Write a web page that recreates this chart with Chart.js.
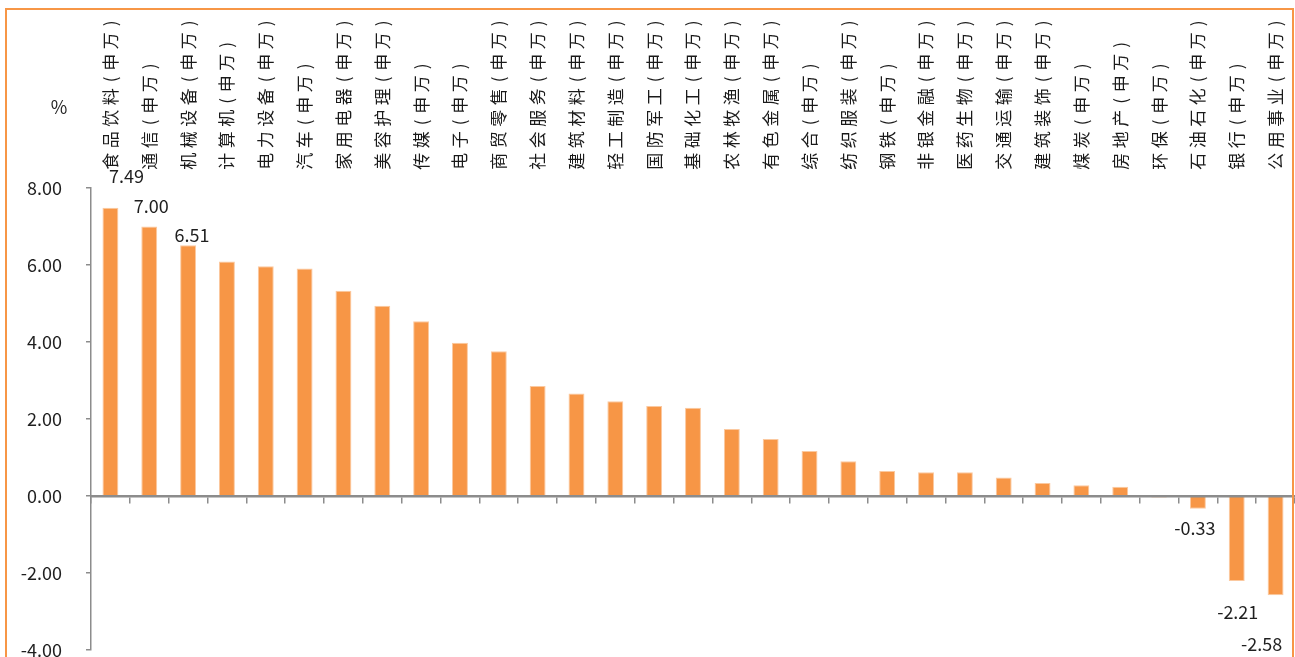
<!DOCTYPE html>
<html>
<head>
<meta charset="utf-8">
<script src="https://cdn.jsdelivr.net/npm/chart.js@4/dist/chart.umd.min.js"></script>
<style>
  html, body { margin: 0; padding: 0; background: #fff; }
  #wrap { position: relative; width: 1295px; height: 657px; overflow: hidden; }
  #frame { position: absolute; left: 5px; top: 8px; width: 1285px; height: 700px;
           border: 2px solid #F79646; pointer-events: none; }
</style>
</head>
<body>
<div id="wrap">
  <canvas id="c" width="1295" height="657"></canvas>
  <div id="frame"></div>
</div>
<script>
// ---- data ----
const categories = [
  "食品饮料(申万)", "通信(申万)", "机械设备(申万)", "计算机(申万)", "电力设备(申万)",
  "汽车(申万)", "家用电器(申万)", "美容护理(申万)", "传媒(申万)", "电子(申万)",
  "商贸零售(申万)", "社会服务(申万)", "建筑材料(申万)", "轻工制造(申万)", "国防军工(申万)",
  "基础化工(申万)", "农林牧渔(申万)", "有色金属(申万)", "综合(申万)", "纺织服装(申万)",
  "钢铁(申万)", "非银金融(申万)", "医药生物(申万)", "交通运输(申万)", "建筑装饰(申万)",
  "煤炭(申万)", "房地产(申万)", "环保(申万)", "石油石化(申万)", "银行(申万)", "公用事业(申万)"
];
const values = [
  7.49, 7.00, 6.51, 6.09, 5.97, 5.91, 5.33, 4.94, 4.54, 3.98,
  3.76, 2.86, 2.66, 2.46, 2.34, 2.29, 1.74, 1.48, 1.17, 0.90,
  0.65, 0.62, 0.62, 0.48, 0.34, 0.28, 0.24, -0.04, -0.33, -2.21, -2.58
];
const labeledIndices = [0, 1, 2, 28, 29, 30];
const yTicks = [-4, -2, 0, 2, 4, 6, 8];
const unitLabel = "%";

// ---- style ----
const ORANGE = "#F79646";
const AXIS_GREY = "#8C8C8C";
const TEXT = "#1F1F1F";
const NUM_FONT = '18px "Noto Sans CJK SC", "DejaVu Sans", sans-serif';
const CAT_FONT_SIZE = 17;
const CAT_SPACING = 4.5;
const CAT_GAP = 16; // gap between label block and plot top
// label offset relative to bar end (style only)
const labelOffsets = {0: [16, -31], 1: [2, -20], 2: [4, -10], 28: [-3, 19], 29: [1, 31], 30: [-14, 49]};

const annot = {
  id: "annot",
  afterDatasetsDraw(chart) {
    const ctx = chart.ctx;
    const meta = chart.getDatasetMeta(0);
    ctx.save();
    ctx.font = NUM_FONT;
    ctx.fillStyle = TEXT;
    ctx.textAlign = "center";
    ctx.textBaseline = "middle";
    labeledIndices.forEach(i => {
      const el = meta.data[i];
      const off = labelOffsets[i] || [0, values[i] >= 0 ? -12 : 12];
      ctx.fillText(values[i].toFixed(2), el.x + off[0], el.y + off[1]);
    });
    // unit label
    const ys = chart.scales.y;
    ctx.fillText(unitLabel, ys.right - 32, chart.chartArea.top - 81);

    // vertical category labels (read bottom-to-top), placed on the category scale
    const xs = chart.scales.x;
    ctx.font = CAT_FONT_SIZE + 'px "Noto Sans CJK SC", sans-serif';
    ctx.fillStyle = "#1A1A1A";
    const base = chart.chartArea.top - CAT_GAP;
    categories.forEach((label, i) => {
      const x = xs.getPixelForValue(i);
      let y = base;
      for (const ch of label) {
        const adv = (ch.charCodeAt(0) < 256 ? 0.5 : 1) * CAT_FONT_SIZE + CAT_SPACING;
        ctx.save();
        ctx.translate(x, y - adv / 2);
        ctx.rotate(-Math.PI / 2);
        ctx.fillText(ch, 0, 0);
        ctx.restore();
        y -= adv;
      }
    });
    ctx.restore();
  }
};

new Chart(document.getElementById("c"), {
  type: "bar",
  data: {
    labels: categories,
    datasets: [{
      data: values,
      backgroundColor: ORANGE,
      borderColor: "#FBC9A0",
      borderWidth: 1,
      borderSkipped: "bottom",
      barPercentage: 0.41,
      categoryPercentage: 1.0,
      xAxisID: "x",
      yAxisID: "y"
    }]
  },
  options: {
    responsive: false,
    animation: false,
    events: [],
    layout: { padding: { left: 0, right: 0, top: 188, bottom: 7 } },
    plugins: { legend: { display: false }, tooltip: { enabled: false } },
    scales: {
      y: {
        position: "left",
        min: -4, max: 8,
        afterBuildTicks(s) { s.ticks = yTicks.map(v => ({ value: v })); },
        afterFit(s) { s.width = 91; s.paddingTop = 0; s.paddingBottom = 0; },
        ticks: {
          callback: v => Number(v).toFixed(2),
          font: { family: '"Noto Sans CJK SC", "DejaVu Sans", sans-serif', size: 18 },
          color: TEXT,
          padding: 24
        },
        grid: { drawOnChartArea: false, drawTicks: true, tickLength: 5, color: AXIS_GREY, lineWidth: 1.5 },
        border: { display: true, color: AXIS_GREY, width: 1.5 }
      },
      x: {
        type: "category",
        position: { y: 0 },
        offset: true,
        afterFit(s) { s.paddingLeft = 0; s.paddingRight = 0; },
        ticks: { display: false },
        grid: { offset: true, drawOnChartArea: false, drawTicks: true, tickLength: 6, color: AXIS_GREY, lineWidth: 1.5, z: 1 },
        border: { display: true, color: AXIS_GREY, width: 2.5, z: 1 }
      }
    }
  },
  plugins: [annot]
});
</script>
</body>
</html>
